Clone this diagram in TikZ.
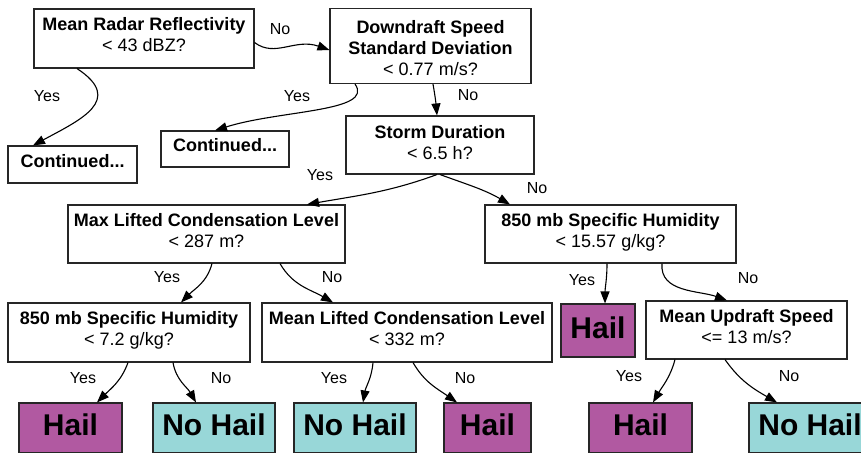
\documentclass[tikz,border=0pt]{standalone}
\usepackage{fontspec}
\setmainfont{Liberation Sans}
\usetikzlibrary{arrows.meta}
\definecolor{hailcol}{RGB}{177,89,161}
\definecolor{nohailcol}{RGB}{152,215,216}

\begin{document}
\begin{tikzpicture}[x=1pt,y=-1pt,
  box/.style={draw=black!85,line width=1.1pt,fill=white,inner sep=0pt,
    align=center,text depth=8pt,font=\fontsize{18}{21}\selectfont},
  leaf/.style={box,text depth=6pt,font=\fontsize{30}{30}\selectfont\bfseries},
  hail/.style={leaf,fill=hailcol},
  nohail/.style={leaf,fill=nohailcol},
  lbl/.style={font=\fontsize{16}{16}\selectfont,inner sep=0pt},
  edge/.style={line width=1.1pt,-{Triangle[length=12pt,width=9pt]}}]

  \clip (0,0) rectangle (861,452);

  %% questions
  \node[box,minimum width=220pt,minimum height=59pt] (rad) at (144,38.5)
    {\bfseries Mean Radar Reflectivity\\ < 43 dBZ?};
  \node[box,minimum width=201pt,minimum height=68pt] (down) at (430.5,46)
    {\rule{0pt}{25pt}\bfseries Downdraft Speed\\ \bfseries Standard Deviation\\ < 0.77 m/s?};
  \node[box,minimum width=188pt,minimum height=58pt,text depth=5pt] (storm) at (440,145)
    {\bfseries Storm Duration\\ < 6.5 h?};
  \node[box,minimum width=277pt,minimum height=58pt] (maxlcl) at (206.5,234)
    {\bfseries Max Lifted Condensation Level\\ < 287 m?};
  \node[box,minimum width=251pt,minimum height=58pt] (hum15) at (610.5,234)
    {\bfseries 850 mb Specific Humidity\\ < 15.57 g/kg?};
  \node[box,minimum width=242pt,minimum height=59pt] (hum7) at (129,332.5)
    {\bfseries 850 mb Specific Humidity\\ < 7.2 g/kg?};
  \node[box,minimum width=290pt,minimum height=59pt] (meanlcl) at (407,332.5)
    {\bfseries Mean Lifted Condensation Level\\ < 332 m?};
  \node[box,minimum width=201pt,minimum height=58pt] (updraft) at (746.5,330)
    {\bfseries Mean Updraft Speed\\ <= 13 m/s?};

  %% continued
  \node[box,minimum width=129pt,minimum height=37pt] (cont1) at (72.5,164.5)
    {\bfseries Continued...};
  \node[box,minimum width=128pt,minimum height=36pt] (cont2) at (225,149)
    {\bfseries Continued...};

  %% leaves
  \node[hail,minimum width=74pt,minimum height=53pt] (hailA) at (598,330.5) {Hail};
  \node[hail,minimum width=103pt,minimum height=50pt] (hailB) at (70.5,428) {Hail};
  \node[nohail,minimum width=122pt,minimum height=50pt] (nohailA) at (214,428) {No Hail};
  \node[nohail,minimum width=122pt,minimum height=50pt] (nohailB) at (355,428) {No Hail};
  \node[hail,minimum width=87pt,minimum height=50pt] (hailC) at (487.5,428) {Hail};
  \node[hail,minimum width=103pt,minimum height=50pt] (hailD) at (640.5,428) {Hail};
  \node[nohail,minimum width=122pt,minimum height=50pt] (nohailC) at (810,428) {No Hail};

  %% edges
  \draw[edge] ([xshift=-67pt]rad.south) .. controls (125,100) and (80,120) .. ([xshift=-39.5pt]cont1.north);
  \draw[edge] ([yshift=-4pt]rad.east) .. controls (275,58) and (295,38) .. ([yshift=-4pt]down.west);
  \draw[edge] ([xshift=-75.5pt]down.south) .. controls (375,112) and (280,110) .. ([xshift=-10pt]cont2.north);
  \draw[edge] ([xshift=2.5pt]down.south) to[out=-80,in=95] ([xshift=-3pt]storm.north);
  \draw[edge] ([xshift=-3pt]storm.south) to[out=-160,in=10] ([xshift=100.5pt]maxlcl.north);
  \draw[edge] ([xshift=0pt]storm.south) to[out=-20,in=150] ([xshift=-100.5pt]hum15.north);
  \draw[edge] ([xshift=5.5pt]maxlcl.south) to[out=-105,in=45] ([xshift=52pt]hum7.north);
  \draw[edge] ([xshift=73.5pt]maxlcl.south) to[out=-60,in=150] ([xshift=-74pt]meanlcl.north);
  \draw[edge] ([xshift=-1pt]hum7.south) to[out=-110,in=45] ([xshift=26.5pt]hailB.north);
  \draw[edge] ([xshift=44pt]hum7.south) to[out=-80,in=120] ([xshift=-18pt]nohailA.north);
  \draw[edge] ([xshift=-34pt]meanlcl.south) to[out=-95,in=80] ([xshift=8pt]nohailB.north);
  \draw[edge] ([xshift=6pt]meanlcl.south) to[out=-60,in=145] ([xshift=-30.5pt]hailC.north);
  \draw[edge] ([xshift=-3.5pt]hum15.south) to[out=-90,in=90] ([xshift=7pt]hailA.north);
  \draw[edge] ([xshift=51.5pt]hum15.south) to[out=-95,in=160] ([xshift=-19.5pt]updraft.north);
  \draw[edge] ([xshift=-71.5pt]updraft.south) to[out=-105,in=60] ([xshift=12.5pt]hailD.north);
  \draw[edge] ([xshift=-21.5pt]updraft.south) to[out=-55,in=150] ([xshift=-33pt]nohailC.north);

  %% yes / no
  \node[lbl] (y1) at (47,96) {Yes};
  \node[lbl] (n1) at (280,29) {No};
  \node[lbl] (y2) at (297,96) {Yes};
  \node[lbl] (n2) at (468,95) {No};
  \node[lbl] (y3) at (320,175) {Yes};
  \node[lbl] (n3) at (537,188) {No};
  \node[lbl] (y4) at (167,277) {Yes};
  \node[lbl] (n4) at (332,277) {No};
  \node[lbl] (y5) at (83,378) {Yes};
  \node[lbl] (n5) at (221,378) {No};
  \node[lbl] (y6) at (334,378) {Yes};
  \node[lbl] (n6) at (465,378) {No};
  \node[lbl] (y7) at (582,280) {Yes};
  \node[lbl] (n7) at (748,278) {No};
  \node[lbl] (y8) at (629,376) {Yes};
  \node[lbl] (n8) at (789,376) {No};

\end{tikzpicture}
\end{document}
